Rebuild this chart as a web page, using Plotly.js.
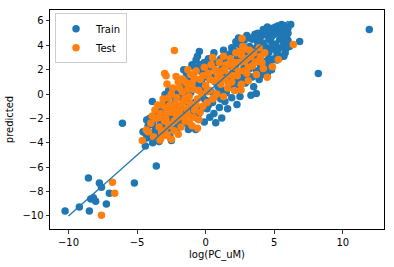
<!DOCTYPE html>
<html>
<head>
<meta charset="utf-8">
<script src="https://cdn.plot.ly/plotly-3.0.1.min.js"></script>
<style>html,body{margin:0;padding:0;background:#fff;}#chart{width:394px;height:267px;}</style>
</head>
<body>
<div id="chart"></div>
<script>
// Train set: true log(PC_uM) vs predicted
const trainX = [
 -10.25,-9.21,-8.48,-8.55,-8.38,-8.19,-8.02,-7.75,-7.60,-7.24,-7.02,-6.07,-5.20,-3.60,-4.40,-3.86,-4.57,-4.30,-3.89,-2.50,-0.46,8.21,11.93,6.20,6.85,5.54,3.69,2.28,1.17,0.73,-0.73,-1.26,-2.96,-0.87,
 -4.4,-4.2,-4.0,-3.8,-3.7,-3.6,-3.5,-3.4,-3.3,-3.2,-3.1,-3.0,-3.9,-4.1,-3.5,
 -2.9,-2.8,-2.7,-2.6,-2.5,-2.4,-2.3,-2.2,-2.1,-2.0,-2.9,-2.6,-2.3,-2.0,-2.7,
 -1.9,-1.8,-1.7,-1.6,-1.5,-1.4,-1.3,-1.2,-1.1,-1.0,-1.9,-1.6,-1.3,-1.0,-1.5,
 -0.9,-0.8,-0.7,-0.6,-0.5,-0.4,-0.3,-0.2,-0.1,0.0,-0.8,-0.5,-0.3,-0.1,-0.6,
 0.1,0.2,0.3,0.4,0.5,0.6,0.7,0.8,0.9,1.0,0.3,0.6,0.9,0.2,1.0,
 1.1,1.2,1.3,1.4,1.5,1.6,1.7,1.8,1.9,2.0,1.3,1.6,1.9,1.4,2.0,
 2.1,2.2,2.3,2.4,2.5,2.6,2.7,2.8,2.9,3.0,2.2,2.5,2.8,3.0,2.4,
 3.1,3.2,3.3,3.4,3.5,3.6,3.7,3.8,3.9,4.0,3.3,3.6,3.9,4.0,3.5,
 4.1,4.2,4.3,4.4,4.5,4.6,4.7,4.8,4.9,5.0,4.3,4.6,4.9,4.5,5.0,
 5.1,5.2,5.3,5.4,5.5,5.6,5.7,5.8,5.9,6.1,5.2,5.6,6.0,5.4,5.8,
 1.5,1.7,2.0,2.2,2.6,2.9,3.1,3.3,3.5,3.7,3.9,4.1,4.2,4.4,4.6,4.7,4.8,5.0,5.1,5.3,5.5,5.7,5.9,6.0,
 4.4,3.8,3.2,2.7,2.3,1.8,1.2,0.8,0.4,0.0,-0.4,-0.9,-1.2,-1.7,-2.2,-2.5,-3.0,-3.3,-3.7,-4.3,
 -2.8,-2.1,-1.4,-0.7,0.1,0.5,1.1,1.5,2.1,2.6,3.4,4.1,4.7,5.2,1.0,-0.2,-1.1,-1.8,-2.4,-3.5,
 4.2,4.5,4.8,5.1,5.3,5.7,6.0,3.8
];
const trainY = [
 -9.59,-9.26,-9.59,-6.89,-8.61,-8.50,-8.80,-7.30,-7.65,-9.02,-8.14,-2.40,-7.30,-5.90,-4.26,-3.99,-3.09,-2.13,-0.60,-3.80,3.50,1.69,5.30,5.71,4.32,5.71,0.05,-0.85,-1.97,-2.35,-2.90,-2.90,-0.03,2.24,
 -3.2,-2.6,-3.5,-2.1,-3.0,-1.8,-2.7,-3.9,-1.4,-2.4,-3.3,-1.9,-2.5,-2.0,-1.2,
 -0.6,-2.8,-1.2,-3.5,-0.2,-2.1,-1.6,-3.0,0.4,-1.0,-3.3,-1.9,-0.8,-2.5,0.3,
 1.2,-0.3,-2.2,0.6,-1.4,1.7,-0.6,-2.8,0.1,-1.7,-1.9,2.0,0.9,2.4,-0.1,
 1.5,-0.7,2.8,-2.0,0.8,1.9,-1.2,0.3,2.6,-0.5,0.4,-1.6,1.1,-2.3,3.1,
 1.4,-0.9,2.2,0.2,3.0,-1.6,1.0,2.6,-0.2,1.8,-1.9,3.4,0.6,2.9,-1.1,
 2.9,0.3,3.6,-0.6,1.6,2.3,0.9,3.3,-0.3,2.0,1.2,-1.2,3.8,2.6,0.5,
 3.5,1.2,4.1,0.4,2.8,3.7,1.7,4.4,0.9,3.0,2.4,-0.2,2.2,4.8,4.6,
 1.5,3.9,2.6,4.5,0.6,3.3,1.9,4.2,2.8,3.6,-0.1,4.9,1.2,2.3,3.0,
 4.8,1.6,3.9,2.7,5.1,3.4,4.4,2.0,3.7,4.9,2.2,4.6,5.4,1.7,2.9,
 4.1,3.3,5.2,4.5,3.1,3.9,4.3,3.4,4.8,3.9,5.5,5.0,4.4,3.0,5.3,
 3.1,2.7,3.6,4.3,4.2,3.4,4.6,3.5,4.7,3.8,4.5,3.3,4.2,4.9,2.9,3.8,4.7,4.0,5.1,3.7,4.8,3.1,3.8,5.0,
 3.6,3.0,2.1,2.9,3.0,1.4,2.2,1.7,1.4,2.0,2.4,1.0,1.3,0.9,0.1,-1.2,-2.8,-2.3,-3.7,-3.6,
 -2.0,-2.8,-2.4,-1.4,-1.2,-0.7,-0.4,0.1,0.9,1.3,1.4,2.0,2.5,2.8,0.4,-0.3,-1.1,-1.3,-2.9,-3.4,
 5.3,5.5,5.2,5.5,5.6,5.6,5.4,5.0
];
// Test set
const testX = [
 -7.60,-6.80,-6.63,-4.62,-4.33,-2.28,-2.99,-2.89,-2.82,-2.16,-1.72,2.65,6.39,5.30,4.86,4.49,2.58,-3.26,-3.33,
 -4.2,-4.0,-3.8,-3.6,-3.5,-3.4,-3.3,-3.2,-3.1,-3.0,
 -2.9,-2.8,-2.7,-2.6,-2.5,-2.4,-2.3,-2.2,-2.1,-2.0,
 -1.9,-1.8,-1.7,-1.6,-1.5,-1.4,-1.3,-1.2,-1.1,-1.0,
 -0.9,-0.8,-0.7,-0.6,-0.5,-0.4,-0.3,-0.2,-0.1,0.0,
 0.1,0.2,0.3,0.4,0.5,0.6,0.7,0.8,0.9,1.0,
 1.1,1.2,1.3,1.4,1.5,1.6,1.7,1.8,1.9,2.0,
 2.2,2.3,2.5,2.6,2.7,2.8,3.0,3.1,3.2,3.4,
 3.5,3.7,3.8,4.0,4.2,4.3,-3.7,-2.0,-1.3,0.5,
 -0.6,1.3,2.1,-2.5,-3.9,
 -3.4,-3.2,-3.0,-2.9,-2.8,-2.7,-2.6,-2.5,-2.4,-2.3,-2.2,-2.1,-2.0,-1.9,-1.8,-1.7,-1.6,-1.5,-1.4,-1.3,
 -1.2,-1.1,-1.0,-0.9,-0.8,-0.7,-0.5,-0.4,-0.2,0.1,0.3,0.6,0.8,1.1,1.4,1.7,2.0,2.2,2.4,2.6,
 2.8,2.9,3.1,3.3,3.6,3.9,4.1,2.5,3.0,1.9
];
const testY = [
 -9.95,-7.24,-8.14,-3.80,-2.95,3.58,1.69,1.50,0.82,1.45,1.23,4.56,4.07,2.84,2.24,1.39,0.33,-3.61,-3.77,
 -3.1,-2.4,-3.5,-2.0,-0.9,-2.7,-1.6,-3.2,-0.4,-2.2,
 -1.1,-3.4,-0.3,-2.5,-1.5,0.5,-3.0,-0.8,-2.0,1.0,
 -1.3,-2.7,0.2,-0.6,-2.2,0.9,-1.7,-0.2,1.6,-2.6,
 0.4,-1.3,1.9,-0.4,-2.1,1.2,0.0,-1.0,2.2,0.7,
 -0.7,1.7,0.3,2.4,-0.4,1.1,2.0,0.0,1.5,2.6,
 0.8,1.9,-0.2,1.2,2.4,0.5,1.6,2.9,1.0,2.2,
 3.4,1.5,2.6,0.8,3.9,1.9,2.9,1.1,3.6,2.3,
 3.4,1.6,2.7,3.1,2.1,3.4,-1.3,-3.3,2.0,3.0,
 -2.8,3.1,0.3,-3.7,-1.8,
 -1.9,-0.9,-3.0,-2.0,-1.5,-2.6,-0.9,0.0,-1.1,-2.2,-1.6,-0.3,-1.9,0.5,-0.9,-1.8,1.1,-0.3,-1.2,0.4,
 -2.3,-0.8,0.9,-1.9,1.3,-0.9,0.3,-1.5,1.5,0.2,1.2,-0.3,1.8,1.3,2.1,0.9,1.5,2.6,1.9,3.2,
 2.7,3.7,2.2,3.1,2.6,3.8,2.6,3.5,1.7,2.6
];
// identity reference line
const lineX = [-10, 6];
const lineY = [-10, 6];
const xTicks = [-10, -5, 0, 5, 10];
const yTicks = [-10, -8, -6, -4, -2, 0, 2, 4, 6];

const fmt = v => (v < 0 ? '\u2212' + Math.abs(v) : String(v));
const font = {family: 'DejaVu Sans', size: 10, color: '#000'};

Plotly.newPlot('chart', [
  {x: trainX, y: trainY, type: 'scatter', mode: 'markers', name: 'Train',
   marker: {color: '#1f77b4', size: 7.5}},
  {x: testX, y: testY, type: 'scatter', mode: 'markers', name: 'Test',
   marker: {color: '#ff7f0e', size: 7.5}},
  {x: lineX, y: lineY, type: 'scatter', mode: 'lines', showlegend: false,
   line: {color: '#1f77b4', width: 1.3}}
], {
  width: 394, height: 267,
  margin: {l: 50, r: 10, t: 10, b: 38},
  paper_bgcolor: '#fff', plot_bgcolor: '#fff',
  font: font,
  showlegend: true,
  legend: {x: 0.015, y: 0.985, xanchor: 'left', yanchor: 'top',
    bgcolor: 'rgba(255,255,255,0.8)', bordercolor: '#cccccc', borderwidth: 1,
    font: font, itemwidth: 30, tracegroupgap: 0},
  xaxis: {range: [-11.35, 13.0], tickvals: xTicks, ticktext: xTicks.map(fmt),
    ticks: 'outside', ticklen: 3.5, tickwidth: 0.8, tickcolor: '#000',
    showline: true, linecolor: '#000', linewidth: 1, mirror: true,
    showgrid: false, zeroline: false, tickfont: font,
    title: {text: 'log(PC_uM)', font: font, standoff: 4}},
  yaxis: {range: [-11.07, 6.9], tickvals: yTicks, ticktext: yTicks.map(fmt),
    ticks: 'outside', ticklen: 3.5, tickwidth: 0.8, tickcolor: '#000',
    showline: true, linecolor: '#000', linewidth: 1, mirror: true,
    showgrid: false, zeroline: false, tickfont: font,
    title: {text: 'predicted', font: font, standoff: 6}}
}, {displayModeBar: false, staticPlot: true});
</script>
</body>
</html>
